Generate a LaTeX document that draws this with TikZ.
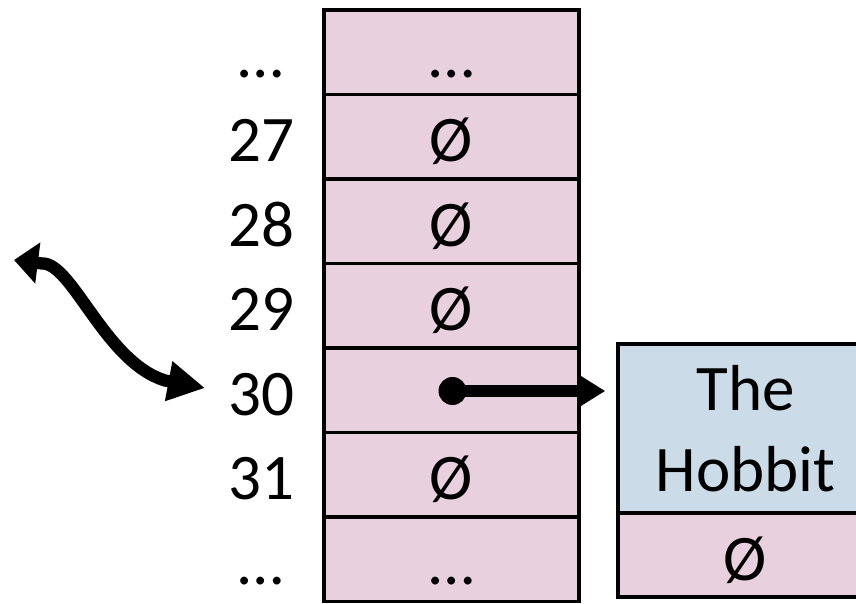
\documentclass[tikz,border=0pt]{standalone}
\usepackage{fontspec}
\setmainfont{Carlito}
\usetikzlibrary{arrows.meta}
\definecolor{cellpink}{RGB}{233,208,222}
\definecolor{cellblue}{RGB}{204,219,232}
\begin{document}
\begin{tikzpicture}[font=\fontsize{37}{44}\selectfont,
	cell/.style={rectangle, draw, line width=2pt, fill=cellpink, minimum width=5.1cm, minimum height=1.69cm, inner sep=0pt, text height=1cm, text depth=0pt},
	label/.style={inner sep=0pt, text height=1cm, text depth=0pt}]
	\useasboundingbox (0,0) rectangle (17.12,12.06);
	\node (R0) at ( 9.03, 11.015)	[cell]	{…};
	\node (R1) at ( 9.03,  9.325)	[cell]	{Ø};
	\node (R2) at ( 9.03,  7.635)	[cell]	{Ø};
	\node (R3) at ( 9.03,  5.945)	[cell]	{Ø};
	\node (R4) at ( 9.03,  4.255)	[cell]	{};
	\node (R5) at ( 9.03,  2.565)	[cell]	{Ø};
	\node (R6) at ( 9.03,  0.875)	[cell]	{…};
	\node (L0) at ( 5.22, 11.015)	[label]	{…};
	\node (L1) at ( 5.22,  9.325)	[label]	{27};
	\node (L2) at ( 5.22,  7.635)	[label]	{28};
	\node (L3) at ( 5.22,  5.945)	[label]	{29};
	\node (L4) at ( 5.22,  4.255)	[label]	{30};
	\node (L5) at ( 5.22,  2.565)	[label]	{31};
	\node (L6) at ( 5.22,  0.875)	[label]	{…};
	\node (B1) at (14.91,  3.49)	[cell, fill=cellblue, minimum height=3.38cm, text height=, text depth=, align=center]	{The\\[2pt]Hobbit};
	\node (B2) at (14.91,  0.96)	[cell, minimum height=1.68cm]	{Ø};
	\node (P) at (9.05, 4.24)	[circle, fill=black, inner sep=0pt, minimum size=0.56cm]	{};
	\draw [line width=6.4pt, -{Triangle[length=0.5cm, width=0.58cm]}, shorten >=0.22cm] (P.center) -- (P -| B1.west);
	\coordinate (W1) at (0.28, 6.86);
	\coordinate (W1b) at (0.84, 6.79);
	\coordinate (W2b) at (3.30, 4.45);
	\coordinate (W2) at (4.10, 4.30);
	\draw [line width=7pt, line join=round, {Triangle[length=0.48cm, width=0.8cm]}-{Triangle[length=0.74cm, width=0.76cm]}]
		(W1) -- (W1b) .. controls (1.44, 6.82) and (2.10, 4.82) .. (W2b) -- (W2);
\end{tikzpicture}
\end{document}
